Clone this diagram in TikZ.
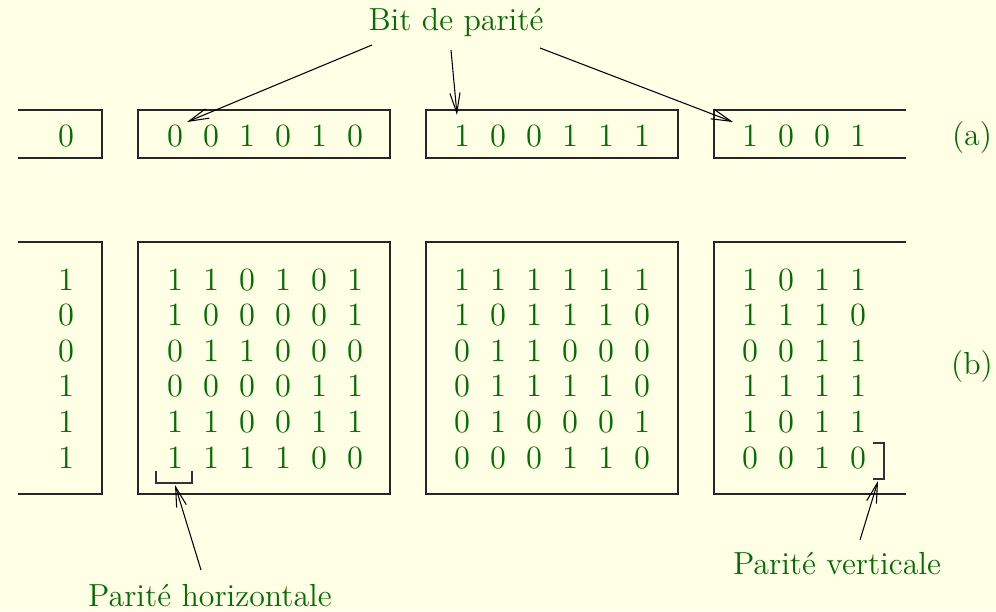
\documentclass[tikz,border=0pt]{standalone}
\usetikzlibrary{arrows.meta}
\definecolor{bg}{RGB}{255,255,230}
\definecolor{txt}{RGB}{0,110,0}
\begin{document}
\begin{tikzpicture}[x=0.376pt,y=-0.376pt,
  dig/.style={text=txt,inner sep=0pt,anchor=base,font=\fontsize{12.2}{14}\selectfont},
  lbl/.style={text=txt,inner sep=0pt,font=\fontsize{12}{14}\selectfont},
  frame/.style={draw=black!85,line width=0.45pt},
  arr/.style={-{Straight Barb[length=7.5pt,width=3.8pt,line width=0.4pt]},line width=0.4pt},
  brk/.style={draw=black!80,line width=0.45pt}]
\fill[bg] (0,0) rectangle (996,611);
\useasboundingbox (0,0) rectangle (996,611);
% ---- row (a) frames
\draw[frame] (18,110) -- (102,110) -- (102,158) -- (18,158);
\draw[frame] (138,110) rectangle (390,158);
\draw[frame] (426,110) rectangle (678,158);
\draw[frame] (906,110) -- (714,110) -- (714,158) -- (906,158);
% ---- row (a) digits
\node[dig] (a1) at (66,146.5) {0};
\foreach \d [count=\c] in {0,0,1,0,1,0}
  \node[dig] (a2-\c) at ({175+36*(\c-1)},146.5) {\d};
\foreach \d [count=\c] in {1,0,0,1,1,1}
  \node[dig] (a3-\c) at ({462+36*(\c-1)},146.5) {\d};
\foreach \d [count=\c] in {1,0,0,1}
  \node[dig] (a4-\c) at ({750+36*(\c-1)},146.5) {\d};
\node[lbl] (la) at (972,138) {(a)};
% ---- row (b) frames
\draw[frame] (18,242) -- (102,242) -- (102,494) -- (18,494);
\draw[frame] (138,242) rectangle (390,494);
\draw[frame] (426,242) rectangle (678,494);
\draw[frame] (906,242) -- (714,242) -- (714,494) -- (906,494);
% ---- row (b) digits
\foreach \d [count=\r] in {1,0,0,1,1,1}
  \node[dig] (b1-\r) at (66,{290+35.6*(\r-1)}) {\d};
\foreach \row [count=\r] in {{1,1,0,1,0,1},{1,0,0,0,0,1},{0,1,1,0,0,0},{0,0,0,0,1,1},{1,1,0,0,1,1},{1,1,1,1,0,0}}
  \foreach \d [count=\c] in \row
    \node[dig] (b2-\r-\c) at ({175+36*(\c-1)},{290+35.6*(\r-1)}) {\d};
\foreach \row [count=\r] in {{1,1,1,1,1,1},{1,0,1,1,1,0},{0,1,1,0,0,0},{0,1,1,1,1,0},{0,1,0,0,0,1},{0,0,0,1,1,0}}
  \foreach \d [count=\c] in \row
    \node[dig] (b3-\r-\c) at ({462+36*(\c-1)},{290+35.6*(\r-1)}) {\d};
\foreach \row [count=\r] in {{1,0,1,1},{1,1,1,0},{0,0,1,1},{1,1,1,1},{1,0,1,1},{0,0,1,0}}
  \foreach \d [count=\c] in \row
    \node[dig] (b4-\r-\c) at ({750+36*(\c-1)},{290+35.6*(\r-1)}) {\d};
\node[lbl] (lb) at (972,367) {(b)};
% ---- brackets
\draw[brk] (156,471) -- (156,483) -- (192,483) -- (192,471);
\draw[brk] (873,443) -- (884,443) -- (884,479) -- (873,479);
% ---- labels
\node[lbl] (bit) at (456,22) {Bit de parité};
\node[lbl] (ph) at (210,596) {Parité horizontale};
\node[lbl] (pv) at (837,564) {Parité verticale};
% ---- arrows
\coordinate (s1) at (372,45);  \coordinate (t1) at (187,122);
\coordinate (s2) at (451,50);  \coordinate (t2) at (457,115);
\coordinate (s3) at (540,48);  \coordinate (t3) at (733,122);
\coordinate (s4) at (201,570); \coordinate (t4) at (175,485);
\coordinate (s5) at (860,540); \coordinate (t5) at (878,481);
\draw[arr] (s1) -- (t1);
\draw[arr] (s2) -- (t2);
\draw[arr] (s3) -- (t3);
\draw[arr] (s4) -- (t4);
\draw[arr] (s5) -- (t5);
\end{tikzpicture}
\end{document}
